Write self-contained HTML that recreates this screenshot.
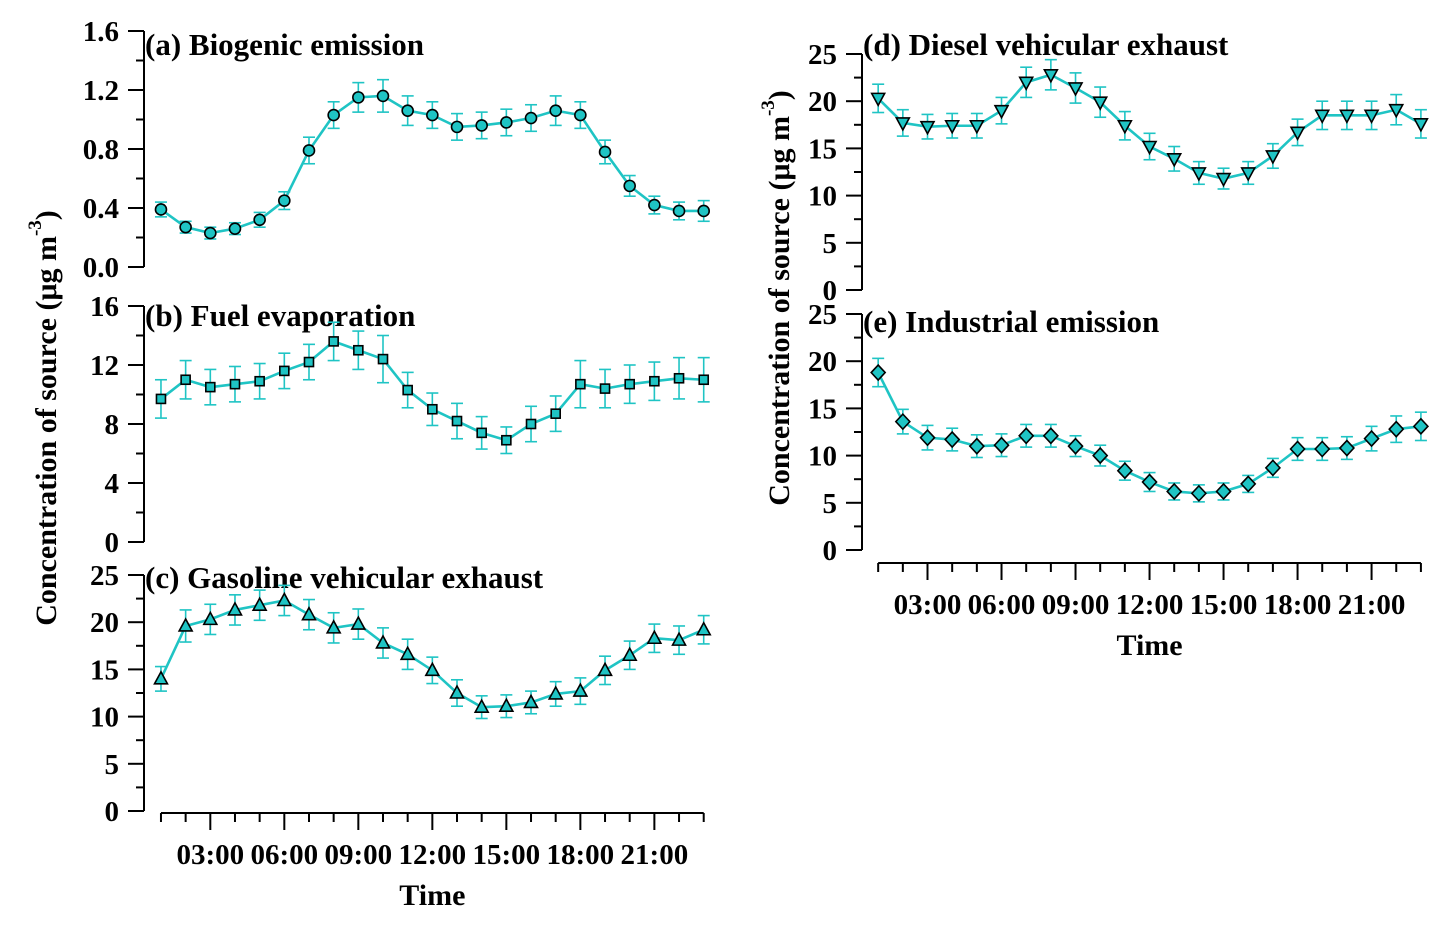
<!DOCTYPE html>
<html><head><meta charset="utf-8"><style>
html,body{margin:0;padding:0;background:#fff;}
svg{display:block;font-family:"Liberation Serif",serif;font-weight:bold;}
</style></head><body>
<svg id="c" width="1453" height="926"></svg>
<script>
const hours=[1,2,3,4,5,6,7,8,9,10,11,12,13,14,15,16,17,18,19,20,21,22,23];
const bioVals=[0.39,0.27,0.23,0.26,0.32,0.45,0.79,1.03,1.15,1.16,1.06,1.03,0.95,0.96,0.98,1.01,1.06,1.03,0.78,0.55,0.42,0.38,0.38];
const bioErr=[0.05,0.04,0.04,0.04,0.05,0.06,0.09,0.09,0.1,0.11,0.1,0.09,0.09,0.09,0.09,0.09,0.1,0.09,0.08,0.07,0.06,0.06,0.07];
const fuelVals=[9.7,11.0,10.5,10.7,10.9,11.6,12.2,13.6,13.0,12.4,10.3,9.0,8.2,7.4,6.9,8.0,8.7,10.7,10.4,10.7,10.9,11.1,11.0];
const fuelErr=[1.3,1.3,1.2,1.2,1.2,1.2,1.2,1.3,1.3,1.6,1.2,1.1,1.2,1.1,0.9,1.2,1.2,1.6,1.3,1.3,1.3,1.4,1.5];
const gasVals=[14.0,19.6,20.3,21.3,21.8,22.3,20.8,19.4,19.8,17.8,16.6,14.9,12.5,11.0,11.1,11.5,12.4,12.7,14.9,16.5,18.3,18.1,19.2];
const gasErr=[1.3,1.7,1.6,1.6,1.6,1.6,1.6,1.6,1.6,1.6,1.6,1.4,1.4,1.2,1.2,1.2,1.3,1.4,1.5,1.5,1.5,1.5,1.5];
const dieVals=[20.3,17.7,17.3,17.4,17.4,19.0,22.0,22.8,21.4,19.9,17.4,15.2,13.9,12.4,11.8,12.4,14.2,16.7,18.5,18.5,18.5,19.1,17.6];
const dieErr=[1.5,1.4,1.3,1.3,1.3,1.4,1.6,1.6,1.6,1.6,1.5,1.4,1.3,1.2,1.1,1.2,1.3,1.4,1.5,1.5,1.5,1.6,1.5];
const indVals=[18.8,13.6,11.9,11.7,11.0,11.1,12.1,12.1,11.0,10.0,8.4,7.2,6.2,6.0,6.2,7.0,8.7,10.7,10.7,10.8,11.8,12.8,13.1];
const indErr=[1.5,1.3,1.3,1.2,1.2,1.2,1.2,1.2,1.1,1.1,1.0,1.0,0.9,0.9,0.9,0.9,1.0,1.2,1.2,1.2,1.3,1.4,1.5];
const timeLabels=["03:00","06:00","09:00","12:00","15:00","18:00","21:00"];
const timeHours=[3,6,9,12,15,18,21];
const bioTicks=[0,0.4,0.8,1.2,1.6], fuelTicks=[0,4,8,12,16], conTicks=[0,5,10,15,20,25];

const NS="http://www.w3.org/2000/svg", svg=document.getElementById('c');
const TEAL="#1fc4c4";
function el(t,a,p){const e=document.createElementNS(NS,t);for(const k in a)e.setAttribute(k,a[k]);(p||svg).appendChild(e);return e;}
function txt(x,y,s,size,anchor,p){const e=el('text',{x:x,y:y,'font-size':size,'text-anchor':anchor||'middle',fill:'#000'},p);e.textContent=s;return e;}

function marker(g,shape,x,y){
  const a={fill:TEAL,stroke:'#000','stroke-width':1.6};let m;
  if(shape==='circle')m=el('circle',Object.assign({cx:x,cy:y,r:5.5},a),g);
  else if(shape==='square')m=el('rect',Object.assign({x:x-4.5,y:y-4.5,width:9,height:9},a),g);
  else if(shape==='up')m=el('polygon',Object.assign({points:`${x},${y-7} ${x-6.5},${y+5} ${x+6.5},${y+5}`},a),g);
  else if(shape==='down')m=el('polygon',Object.assign({points:`${x},${y+7} ${x-6.5},${y-5} ${x+6.5},${y-5}`},a),g);
  else m=el('polygon',Object.assign({points:`${x},${y-7.5} ${x+7},${y} ${x},${y+7.5} ${x-7},${y}`},a),g);
  return m;
}

function panel(o){
  const g=el('g',{});
  
  
  const ys=v=>o.y0-(v-o.min)/(o.max-o.min)*(o.y0-o.y1);
  const xs=h=>o.x0+h*o.hx;
  const ax=o.ax;
  el('line',{x1:ax,y1:o.y1,x2:ax,y2:o.y0,stroke:'#000','stroke-width':2},g);
  o.ticks.forEach((t,i)=>{
    const y=ys(t);
    el('line',{x1:ax-16,y1:y,x2:ax,y2:y,stroke:'#000','stroke-width':2},g);
    txt(ax-25,y+10,o.fmt(t),29,'end',g);
    if(i<o.ticks.length-1){const ym=ys((t+o.ticks[i+1])/2);el('line',{x1:ax-8,y1:ym,x2:ax,y2:ym,stroke:'#000','stroke-width':2},g);}
  });
  txt(ax+1,o.ty,o.title,31,'start',g);
  const pts=hours.map((h,i)=>[xs(h),ys(o.vals[i])]);
  o.vals.forEach((v,i)=>{
    const x=xs(hours[i]),ya=ys(v+o.err[i]),yb=ys(v-o.err[i]);
    el('line',{x1:x,y1:ya,x2:x,y2:yb,stroke:TEAL,'stroke-width':1.6},g);
    el('line',{x1:x-6,y1:ya,x2:x+6,y2:ya,stroke:TEAL,'stroke-width':1.6},g);
    el('line',{x1:x-6,y1:yb,x2:x+6,y2:yb,stroke:TEAL,'stroke-width':1.6},g);
  });
  el('polyline',{points:pts.map(p=>p.join(',')).join(' '),fill:'none',stroke:TEAL,'stroke-width':2.6},g);
  pts.forEach(p=>{const m=marker(g,o.shape,p[0],p[1]);});
  if(o.xaxis){
    const by=o.xaxis;
    el('line',{x1:xs(1),y1:by,x2:xs(23),y2:by,stroke:'#000','stroke-width':2},g);
    hours.forEach(h=>{const maj=h%3===0;el('line',{x1:xs(h),y1:by,x2:xs(h),y2:by+(maj?17:9),stroke:'#000','stroke-width':2},g);});
    timeHours.forEach((h,i)=>txt(xs(h),by+51,timeLabels[i],29,'middle',g));
    txt((xs(1)+xs(23))/2,by+92,'Time',30,'middle',g);
  }
}
const f1=v=>v.toFixed(1), f0=v=>String(v);
panel({name:'panel-a-biogenic',ax:144,y0:267,y1:31,ty:55,min:0,max:1.6,ticks:bioTicks,fmt:f1,x0:136.3,hx:24.67,vals:bioVals,err:bioErr,shape:'circle',title:'(a) Biogenic emission'});
panel({name:'panel-b-fuel',ax:144,y0:542,y1:306,ty:326,min:0,max:16,ticks:fuelTicks,fmt:f0,x0:136.3,hx:24.67,vals:fuelVals,err:fuelErr,shape:'square',title:'(b) Fuel evaporation'});
panel({name:'panel-c-gasoline',ax:144,y0:811,y1:575,ty:588,min:0,max:25,ticks:conTicks,fmt:f0,x0:136.3,hx:24.67,vals:gasVals,err:gasErr,shape:'up',title:'(c) Gasoline vehicular exhaust',xaxis:813});
panel({name:'panel-d-diesel',ax:862,y0:290,y1:54,ty:55,min:0,max:25,ticks:conTicks,fmt:f0,x0:853.5,hx:24.67,vals:dieVals,err:dieErr,shape:'down',title:'(d) Diesel vehicular exhaust'});
panel({name:'panel-e-industrial',ax:862,y0:550,y1:314,ty:332,min:0,max:25,ticks:conTicks,fmt:f0,x0:853.5,hx:24.67,vals:indVals,err:indErr,shape:'diamond',title:'(e) Industrial emission',xaxis:563});
function ylab(x,y,name){
  const g=el('g',{transform:`translate(${x},${y}) rotate(-90)`});
  
  
  const t=el('text',{x:0,y:0,'font-size':30,'text-anchor':'middle'},g);
  t.innerHTML='Concentration of source (μg m<tspan dy="-15" font-size="19">-3</tspan><tspan dy="15">)</tspan>';
}
ylab(56,418,'y-axis-title-left');
ylab(789,298,'y-axis-title-right');
</script>
</body></html>
